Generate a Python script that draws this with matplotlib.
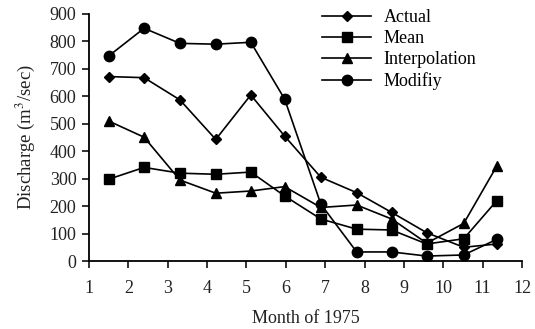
import matplotlib.pyplot as plt
import numpy as np

plt.rcParams['font.family'] = ['Liberation Serif', 'DejaVu Serif']
plt.rcParams['mathtext.fontset'] = 'stix'

# positions of the 12 monthly points on the axis
month_pos = [1.5, 2.4, 3.31, 4.22, 5.11, 5.97, 6.89, 7.8, 8.69, 9.58, 10.52, 11.36]

actual = [672, 668, 587, 443, 605, 455, 305, 249, 177, 103, 50, 62]
mean = [298, 341, 320, 316, 324, 237, 153, 116, 113, 62, 81, 220]
interp = [510, 451, 295, 247, 255, 271, 195, 204, 153, 65, 137, 346]
modify = [747, 848, 793, 790, 797, 590, 207, 33, 33, 18, 22, 79]

fig = plt.figure(figsize=(5.35, 3.29), dpi=100)
ax = fig.add_axes([89 / 535, 1 - 261 / 329, (522 - 89) / 535, (261 - 14) / 329])

ax.plot(month_pos, actual, 'k-', marker='D', ms=5.5, lw=1.2, label='Actual')
ax.plot(month_pos, mean, 'k-', marker='s', ms=6.5, lw=1.2, label='Mean')
ax.plot(month_pos, interp, 'k-', marker='^', ms=7, lw=1.2, label='Interpolation')
ax.plot(month_pos, modify, 'k-', marker='o', ms=7.5, lw=1.2, label='Modifiy')

ax.set_xlim(1, 12)
ax.set_ylim(0, 900)
ax.set_xticks(np.arange(1, 13))
ax.set_yticks(np.arange(0, 1000, 100))
ax.spines['top'].set_visible(False)
ax.spines['right'].set_visible(False)
ax.spines['left'].set_linewidth(1.3)
ax.spines['bottom'].set_linewidth(1.3)
ax.tick_params(direction='out', length=5, width=1.3, labelsize=13, colors='#222222')
ax.tick_params(axis='x', pad=9)
ax.tick_params(axis='y', pad=4)

ax.set_xlabel('Month of 1975', fontsize=13, labelpad=9, color='#222222')
ax.set_ylabel('Discharge (m$^3$/sec)', fontsize=13.5, labelpad=9, color='#222222')

ax.legend(loc='upper left', bbox_to_anchor=(0.51, 1.07), frameon=False,
          fontsize=13, handlelength=2.7, labelspacing=0.22, handletextpad=0.7,
          borderpad=0.2)

fig.savefig('out.png', dpi=100)
